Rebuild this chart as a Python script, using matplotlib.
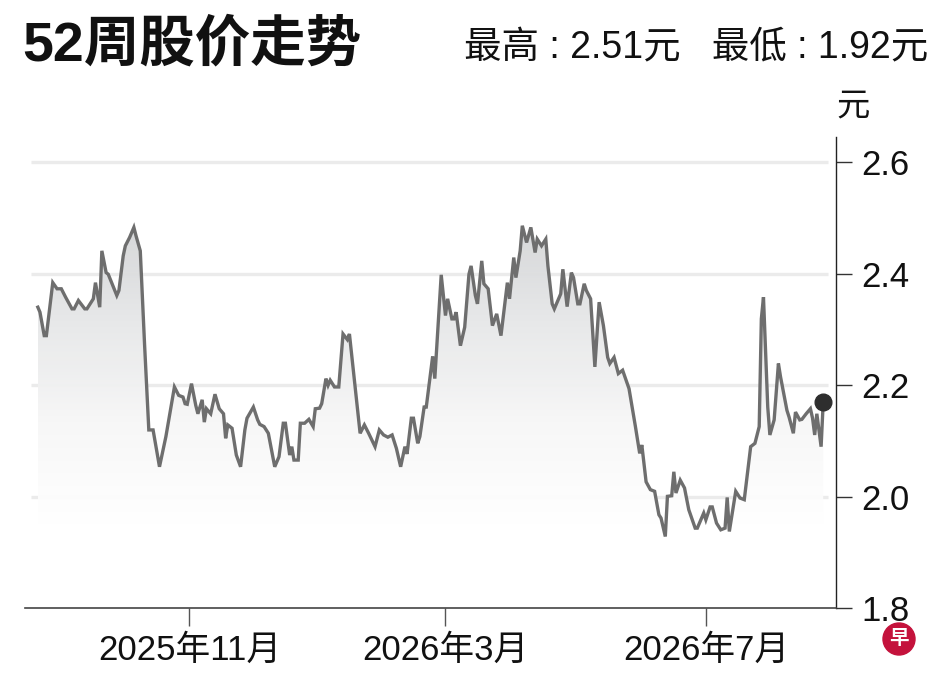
import matplotlib
matplotlib.use("Agg")
import matplotlib.pyplot as plt
import matplotlib.dates as mdates
from matplotlib.patches import Ellipse
import numpy as np
import pandas as pd

plt.rcParams['font.family'] = ['Liberation Sans', 'Noto Sans CJK SC', 'DejaVu Sans']

# ---- data ----
dates = [
    '2025-08-22', '2025-08-23', '2025-08-25', '2025-08-26', '2025-08-29', '2025-08-31',
    '2025-09-02', '2025-09-04', '2025-09-07', '2025-09-08', '2025-09-10', '2025-09-13',
    '2025-09-14', '2025-09-17', '2025-09-18', '2025-09-20', '2025-09-21', '2025-09-23',
    '2025-09-24', '2025-09-28', '2025-09-29', '2025-10-01', '2025-10-02', '2025-10-04',
    '2025-10-06', '2025-10-07', '2025-10-09', '2025-10-11', '2025-10-13', '2025-10-15',
    '2025-10-18', '2025-10-21', '2025-10-25', '2025-10-27', '2025-10-29', '2025-10-30',
    '2025-10-31', '2025-11-02', '2025-11-04', '2025-11-05', '2025-11-07', '2025-11-08',
    '2025-11-09', '2025-11-11', '2025-11-13', '2025-11-15', '2025-11-17', '2025-11-18',
    '2025-11-19', '2025-11-21', '2025-11-23', '2025-11-25', '2025-11-27', '2025-11-28',
    '2025-12-01', '2025-12-03', '2025-12-04', '2025-12-06', '2025-12-08', '2025-12-11',
    '2025-12-13', '2025-12-15', '2025-12-16', '2025-12-18', '2025-12-19', '2025-12-20',
    '2025-12-22', '2025-12-23', '2025-12-25', '2025-12-27', '2025-12-29', '2025-12-30',
    '2026-01-01', '2026-01-02', '2026-01-04', '2026-01-05', '2026-01-06', '2026-01-08',
    '2026-01-10', '2026-01-12', '2026-01-14', '2026-01-15', '2026-01-20', '2026-01-22',
    '2026-01-24', '2026-01-27', '2026-01-29', '2026-01-31', '2026-02-02', '2026-02-04',
    '2026-02-06', '2026-02-08', '2026-02-10', '2026-02-11', '2026-02-13', '2026-02-14',
    '2026-02-16', '2026-02-17', '2026-02-19', '2026-02-20', '2026-02-23', '2026-02-24',
    '2026-02-27', '2026-03-01', '2026-03-02', '2026-03-04', '2026-03-05', '2026-03-06',
    '2026-03-08', '2026-03-10', '2026-03-12', '2026-03-13', '2026-03-15', '2026-03-16',
    '2026-03-18', '2026-03-19', '2026-03-21', '2026-03-23', '2026-03-25', '2026-03-27',
    '2026-03-29', '2026-03-30', '2026-03-31', '2026-04-02', '2026-04-03', '2026-04-05',
    '2026-04-06', '2026-04-08', '2026-04-10', '2026-04-12', '2026-04-13', '2026-04-15',
    '2026-04-17', '2026-04-18', '2026-04-20', '2026-04-21', '2026-04-24', '2026-04-25',
    '2026-04-27', '2026-04-29', '2026-04-30', '2026-05-02', '2026-05-03', '2026-05-05',
    '2026-05-06', '2026-05-08', '2026-05-10', '2026-05-12', '2026-05-14', '2026-05-16',
    '2026-05-17', '2026-05-19', '2026-05-21', '2026-05-23', '2026-05-26', '2026-05-29',
    '2026-05-31', '2026-06-01', '2026-06-03', '2026-06-05', '2026-06-07', '2026-06-09',
    '2026-06-10', '2026-06-12', '2026-06-13', '2026-06-15', '2026-06-16', '2026-06-17',
    '2026-06-19', '2026-06-21', '2026-06-23', '2026-06-26', '2026-06-27', '2026-06-30',
    '2026-07-01', '2026-07-03', '2026-07-04', '2026-07-06', '2026-07-08', '2026-07-10',
    '2026-07-11', '2026-07-12', '2026-07-15', '2026-07-17', '2026-07-19', '2026-07-22',
    '2026-07-24', '2026-07-26', '2026-07-27', '2026-07-28', '2026-07-30', '2026-07-31',
    '2026-08-02', '2026-08-04', '2026-08-05', '2026-08-08', '2026-08-09', '2026-08-11',
    '2026-08-12', '2026-08-14', '2026-08-15', '2026-08-17', '2026-08-19', '2026-08-20',
    '2026-08-21', '2026-08-22', '2026-08-24', '2026-08-25',
]
prices = [
    2.340, 2.331, 2.289, 2.289, 2.384, 2.373,
    2.373, 2.358, 2.337, 2.337, 2.352, 2.337,
    2.337, 2.355, 2.384, 2.340, 2.441, 2.402,
    2.399, 2.361, 2.370, 2.432, 2.450, 2.465,
    2.483, 2.468, 2.441, 2.274, 2.120, 2.120,
    2.054, 2.108, 2.197, 2.182, 2.179, 2.167,
    2.166, 2.203, 2.164, 2.149, 2.174, 2.134,
    2.158, 2.149, 2.184, 2.158, 2.149, 2.105,
    2.129, 2.123, 2.075, 2.054, 2.120, 2.141,
    2.161, 2.138, 2.130, 2.126, 2.114, 2.054,
    2.072, 2.132, 2.132, 2.075, 2.090, 2.066,
    2.066, 2.132, 2.132, 2.139, 2.126, 2.158,
    2.159, 2.167, 2.212, 2.200, 2.209, 2.197,
    2.197, 2.292, 2.282, 2.292, 2.114, 2.129,
    2.114, 2.090, 2.120, 2.111, 2.107, 2.111,
    2.087, 2.054, 2.090, 2.077, 2.141, 2.141,
    2.096, 2.108, 2.161, 2.161, 2.252, 2.212,
    2.398, 2.325, 2.355, 2.319, 2.319, 2.331,
    2.271, 2.304, 2.399, 2.414, 2.361, 2.346,
    2.423, 2.382, 2.373, 2.307, 2.328, 2.289,
    2.352, 2.384, 2.355, 2.429, 2.393, 2.441,
    2.486, 2.456, 2.483, 2.438, 2.462, 2.450,
    2.462, 2.414, 2.346, 2.337, 2.364, 2.408,
    2.341, 2.402, 2.393, 2.346, 2.346, 2.382,
    2.370, 2.355, 2.233, 2.349, 2.307, 2.250,
    2.239, 2.250, 2.221, 2.227, 2.194, 2.126,
    2.078, 2.093, 2.027, 2.013, 2.010, 1.968,
    1.962, 1.929, 2.001, 2.002, 2.045, 2.007,
    2.030, 2.016, 1.977, 1.944, 1.944, 1.971,
    1.959, 1.982, 1.982, 1.953, 1.941, 1.944,
    1.999, 1.938, 2.010, 1.998, 1.995, 2.090,
    2.096, 2.126, 2.319, 2.358, 2.161, 2.111,
    2.138, 2.239, 2.215, 2.155, 2.143, 2.114,
    2.152, 2.138, 2.139, 2.149, 2.158, 2.141,
    2.111, 2.149, 2.090, 2.170,
]
tick_dates = ['2025-11-01', '2026-03-01', '2026-07-01']
tick_labels = ['2025年11月', '2026年3月', '2026年7月']
y_ticks = [1.8, 2.0, 2.2, 2.4, 2.6]
title = '52周股价走势'
high_low = '最高 : 2.51元   最低 : 1.92元'

x = mdates.date2num(pd.to_datetime(dates))
y = np.array(prices)

fig = plt.figure(figsize=(9.48, 6.82), dpi=100)
ax = fig.add_axes([0.0264, 0.1078, 0.8555, 0.6913])

xmin = mdates.date2num(pd.Timestamp('2025-08-16'))
xmax = mdates.date2num(pd.Timestamp('2026-08-31'))
ax.set_xlim(xmin, xmax)
ax.set_ylim(1.8, 2.645)

# grid lines (stop short of the axis)
g0 = mdates.date2num(pd.Timestamp('2025-08-19'))
g1 = mdates.date2num(pd.Timestamp('2026-08-27'))
ax.hlines(y_ticks[1:], g0, g1, colors='#ebebeb', linewidth=2.4, zorder=1)

# gradient fill under the line
poly = ax.fill_between(x, y, 1.8, color='none', linewidth=0)
grad = np.linspace(0, 1, 256).reshape(-1, 1)
cmap = matplotlib.colors.LinearSegmentedColormap.from_list(
    'g', ['#ffffff', '#f7f7f7', '#e6e7e8', '#d3d4d6'])
im = ax.imshow(grad, cmap=cmap, aspect='auto', origin='lower',
               extent=[x[0], x[-1], 1.95, 2.5], zorder=2, alpha=0.95)
path = poly.get_paths()[0]
im.set_clip_path(path, transform=ax.transData)

ax.plot(x, y, color='#6e6e6e', linewidth=2.4, zorder=3, solid_joinstyle='miter')
ax.plot(x[-1], y[-1], 'o', color='#2e2e2e', markersize=12, zorder=4)

# axes styling
for s in ['top', 'left']:
    ax.spines[s].set_visible(False)
ax.spines['right'].set_color('#222222')
ax.spines['right'].set_linewidth(1.0)
ax.spines['bottom'].set_color('#444444')
ax.spines['bottom'].set_linewidth(1.2)

ax.yaxis.tick_right()
ax.set_yticks(y_ticks)
ax.set_yticklabels([f'{v:.1f}' for v in y_ticks])
ax.tick_params(axis='y', direction='out', length=11.5, width=1, color='#333333',
               labelsize=25, pad=7, labelcolor='#111111')
for lab in ax.get_yticklabels():
    lab.set_verticalalignment('center_baseline')

ax.set_xticks(mdates.date2num(pd.to_datetime(tick_dates)))
ax.set_xticklabels(tick_labels)
ax.tick_params(axis='x', direction='out', length=13, width=1, color='#555555',
               labelsize=25, pad=5, labelcolor='#111111')

# titles
fig.text(22 / 948, 1 - 46 / 682, title, fontsize=40, fontweight='bold',
         ha='left', va='center', color='#111111')
fig.text(928 / 948, 1 - 48 / 682, high_low, fontsize=27,
         ha='right', va='center', color='#111111')
fig.text(853 / 948, 1 - 107 / 682, '元', fontsize=24, ha='center', va='center',
         color='#111111')

# small logo
fig.add_artist(Ellipse((899 / 948, 1 - 639 / 682), 32 / 948, 32 / 682,
                       transform=fig.transFigure, color='#c4123c'))
fig.text(899 / 948, 1 - 639 / 682, '早', fontsize=14, fontweight='bold',
         color='white', ha='center', va='center')

fig.savefig('out.png', dpi=100)
